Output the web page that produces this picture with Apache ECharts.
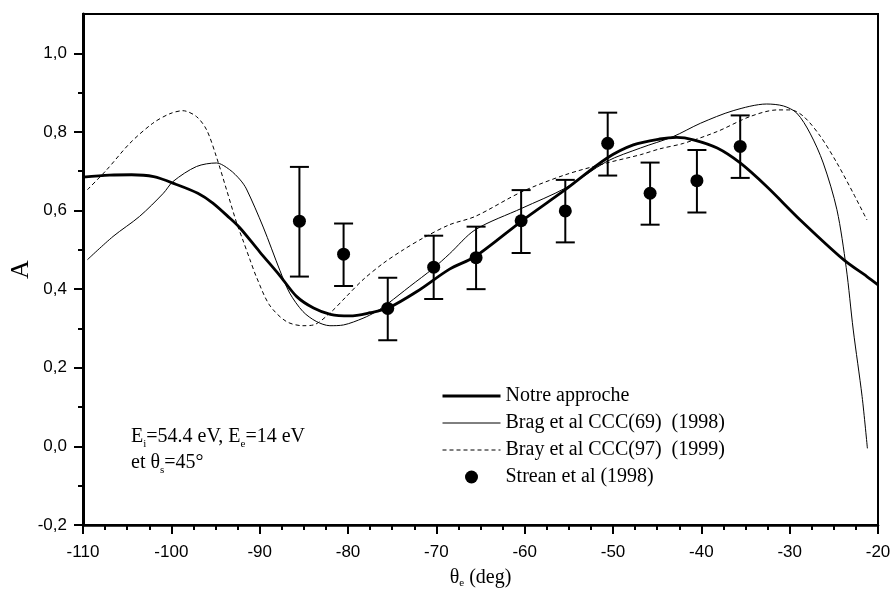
<!DOCTYPE html>
<html><head><meta charset="utf-8">
<script src="https://cdn.jsdelivr.net/npm/echarts@6/dist/echarts.min.js"></script>
<style>html,body{margin:0;padding:0;background:#fff}#c{width:894px;height:594px}</style>
</head><body><div id="c"></div>
<script>
// ---- data ----
const notreTheta = [-110,-107,-104.5,-102,-99.5,-97,-95.3,-93.4,-92.2,-90,-87.7,-85.8,-83.9,-82,-79.8,-77.5,-75.45,-72.2,-68.5,-65.6,-60.3,-55.4,-50.7,-47.7,-44.7,-42.8,-40.9,-38.2,-35.6,-32.6,-28.8,-23.9,-21.25,-20];
const notreA     = [0.685,0.690,0.691,0.686,0.667,0.644,0.619,0.581,0.555,0.495,0.434,0.381,0.352,0.336,0.332,0.340,0.352,0.394,0.451,0.483,0.574,0.653,0.733,0.767,0.782,0.786,0.780,0.759,0.721,0.661,0.576,0.475,0.432,0.411];

const brag69Theta = [-109.5,-106.6,-103.6,-100.9,-99.8,-97.15,-94.9,-93.4,-92.2,-91.5,-89.6,-87.7,-86.6,-85.1,-83.6,-82.05,-80.5,-78.3,-76.8,-75.45,-73,-70.35,-68.5,-65.6,-60.3,-55.4,-50.7,-46.9,-43.2,-40.1,-36.4,-32.6,-30.7,-29.2,-27.7,-26.2,-24.65,-23.6,-22.8,-21.8,-21.2];
const brag69A     = [0.475,0.534,0.585,0.644,0.674,0.712,0.721,0.704,0.678,0.655,0.558,0.447,0.390,0.343,0.318,0.307,0.309,0.326,0.343,0.364,0.407,0.453,0.490,0.551,0.606,0.657,0.725,0.759,0.788,0.822,0.854,0.871,0.866,0.848,0.797,0.721,0.602,0.455,0.296,0.127,-0.005];

const bray97Theta = [-109.5,-107.3,-104.7,-102.1,-100.2,-98.7,-97.15,-96,-94.9,-93.75,-92.6,-91.9,-91.1,-90.35,-88.9,-87,-85.1,-83.9,-82.05,-80.2,-78.3,-76,-73.75,-71.5,-68.5,-65.6,-60.3,-55.4,-50.7,-46.9,-44.7,-42,-38.2,-34.5,-31.4,-29.9,-28.4,-26.5,-24.65,-22.8,-21.25];
const bray97A     = [0.653,0.704,0.771,0.822,0.846,0.854,0.839,0.805,0.737,0.653,0.568,0.525,0.475,0.430,0.360,0.318,0.307,0.309,0.339,0.381,0.424,0.466,0.500,0.530,0.564,0.585,0.648,0.691,0.721,0.742,0.757,0.771,0.801,0.839,0.856,0.856,0.839,0.788,0.721,0.644,0.576];

const streanTheta = [-85.5,-80.5,-75.5,-70.3,-65.5,-60.4,-55.4,-50.6,-45.8,-40.5,-35.6];
const streanA     = [0.573,0.489,0.351,0.456,0.480,0.574,0.599,0.771,0.644,0.676,0.763];
const streanLow   = [0.432,0.408,0.270,0.375,0.400,0.492,0.519,0.689,0.564,0.595,0.683];
const streanHigh  = [0.711,0.567,0.429,0.536,0.559,0.652,0.678,0.849,0.722,0.754,0.842];

const yMajorTicks = [-0.2,0,0.2,0.4,0.6,0.8,1.0];
const yMinorTicks = [-0.1,0.1,0.3,0.5,0.7,0.9];

const seriesNames = ['Notre approche','Brag et al CCC(69)  (1998)','Bray et al CCC(97)  (1999)','Strean et al (1998)'];

// ---- build ----
const zip = (a,b) => a.map((v,i)=>[v,b[i]]);
const SERIF = '"Liberation Serif","Times New Roman",serif';
const SANS = '"Liberation Sans",Arial,sans-serif';

const chart = echarts.init(document.getElementById('c'), null, {renderer:'canvas'});
const hideSym = {opacity:0};
const option = {
  animation:false,
  backgroundColor:'#fff',
  grid:{left:83, right:16, top:14, bottom:69, outerBoundsMode:'none', containLabel:false,
        show:true, borderColor:'#000', borderWidth:2, backgroundColor:'transparent'},
  xAxis:{
    type:'value', min:-110, max:-20, interval:10,
    axisLine:{show:true, onZero:false, lineStyle:{color:'#000', width:2.5}},
    axisTick:{show:true, inside:false, length:9, lineStyle:{color:'#000', width:2}},
    minorTick:{show:true, splitNumber:4, length:5, lineStyle:{color:'#000', width:2}},
    splitLine:{show:false},
    axisLabel:{color:'#000', fontFamily:SANS, fontSize:17, margin:19},
    name:'{a|θ}{s|e}{a| (deg)}', nameLocation:'middle', nameGap:41,
    nameTextStyle:{rich:{a:{fontFamily:SERIF, fontSize:20, color:'#000'}, s:{fontFamily:SERIF, fontSize:11, color:'#000', padding:[12,0,0,0]}}}
  },
  yAxis:[{
    type:'value', min:-0.2, max:1.1,
    axisLine:{show:true, onZero:false, lineStyle:{color:'#000', width:3}},
    axisTick:{show:true, inside:false, length:9, customValues:yMajorTicks, lineStyle:{color:'#000', width:2}},
    axisLabel:{color:'#000', fontFamily:SANS, fontSize:17, margin:16, customValues:yMajorTicks,
      formatter:v=>v.toFixed(1).replace('.',',')},
    splitLine:{show:false},
    name:'A', nameLocation:'middle', nameGap:49, nameRotate:90, nameMoveOverlap:false,
    nameTextStyle:{fontFamily:SERIF, fontSize:26, color:'#000'}
  },{
    type:'value', min:-0.2, max:1.1, position:'left',
    axisLine:{show:false},
    axisTick:{show:true, inside:false, length:5, customValues:yMinorTicks, lineStyle:{color:'#000', width:2}},
    axisLabel:{show:false}, splitLine:{show:false}
  }],
  legend:{
    orient:'vertical', left:436, top:381, itemWidth:58, itemHeight:13, itemGap:7,
    textStyle:{fontFamily:SERIF, fontSize:20, color:'#000'},
    data:[
      {name:seriesNames[0], itemStyle:hideSym, lineStyle:{width:3}},
      {name:seriesNames[1], itemStyle:hideSym, lineStyle:{width:1}},
      {name:seriesNames[2], itemStyle:hideSym, lineStyle:{width:1}},
      {name:seriesNames[3], icon:'circle'}
    ]
  },
  graphic:[{
    type:'text', left:131, top:427, z:10,
    style:{
      text:'{n|E}{sub|i}{n|=54.4 eV, E}{sub|e}{n|=14 eV}\n{n|et θ}{sub|s}{n|=45°}',
      rich:{
        n:{fontFamily:SERIF, fontSize:20, fill:'#000', lineHeight:26},
        sub:{fontFamily:SERIF, fontSize:11, fill:'#000', lineHeight:12, verticalAlign:'bottom'}
      }
    }
  }],
  series:[
    {name:seriesNames[0], type:'line', data:zip(notreTheta,notreA), symbol:'none', smooth:0.3,
     lineStyle:{color:'#000', width:2.8}, itemStyle:{color:'#000'}, z:5},
    {name:seriesNames[1], type:'line', data:zip(brag69Theta,brag69A), symbol:'none', smooth:0.3,
     lineStyle:{color:'#000', width:1}, itemStyle:{color:'#000'}, z:4},
    {name:seriesNames[2], type:'line', data:zip(bray97Theta,bray97A), symbol:'none', smooth:0.3,
     lineStyle:{color:'#000', width:1, type:[4,3]}, itemStyle:{color:'#000'}, z:4},
    {name:seriesNames[3], type:'scatter', data:zip(streanTheta,streanA), symbol:'circle', symbolSize:13,
     itemStyle:{color:'#000', opacity:1}, z:7},
    {name:'errors', type:'custom', z:6,
     data:streanTheta.map((t,i)=>[t,streanLow[i],streanHigh[i]]),
     encode:{x:0, y:[1,2]},
     renderItem:function(params, api){
       const lo = api.coord([api.value(0), api.value(1)]);
       const hi = api.coord([api.value(0), api.value(2)]);
       const hw = 9.5;
       const st = {stroke:'#000', lineWidth:2};
       return {type:'group', children:[
         {type:'line', shape:{x1:lo[0], y1:lo[1], x2:hi[0], y2:hi[1]}, style:st},
         {type:'line', shape:{x1:lo[0]-hw, y1:lo[1], x2:lo[0]+hw, y2:lo[1]}, style:st},
         {type:'line', shape:{x1:hi[0]-hw, y1:hi[1], x2:hi[0]+hw, y2:hi[1]}, style:st}
       ]};
     }}
  ]
};
chart.setOption(option);
</script>
</body></html>
